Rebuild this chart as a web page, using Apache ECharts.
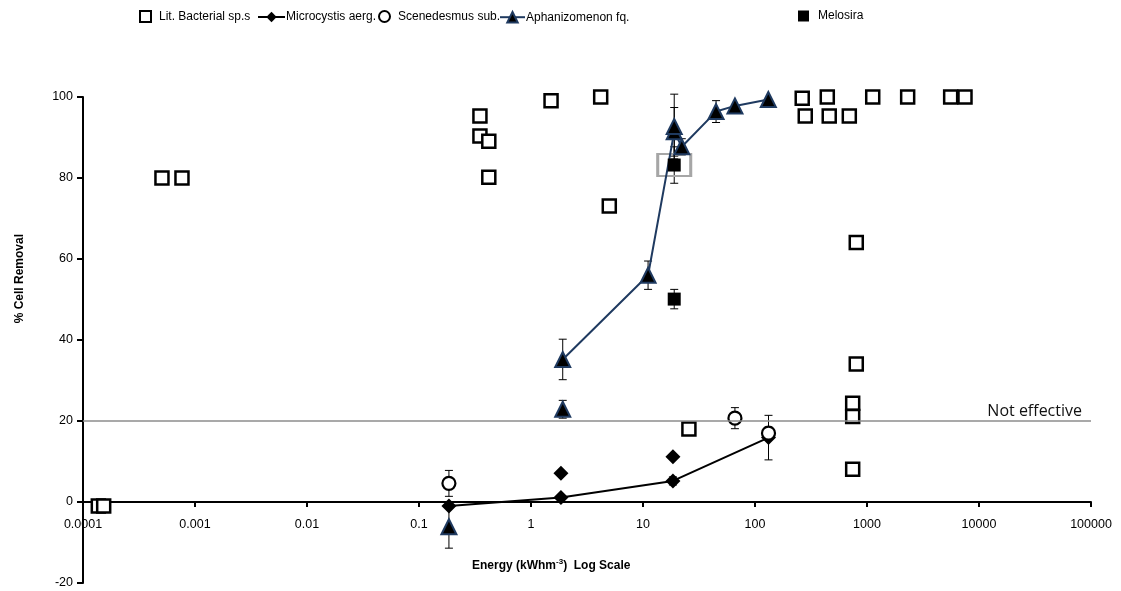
<!DOCTYPE html>
<html>
<head>
<meta charset="utf-8">
<script src="https://cdn.jsdelivr.net/npm/echarts@6/dist/echarts.min.js"></script>
<style>html,body{margin:0;padding:0;background:#fff}#c{width:1121px;height:591px}</style>
</head>
<body>
<div id="c"></div>
<script>
// ---- tick labels ----
const xTickLabels = ['0.0001','0.001','0.01','0.1','1','10','100','1000','10000','100000'];
const yTickValues = [-20, 0, 20, 40, 60, 80, 100];

// ---- Lit. Bacterial sp.s (hollow squares) ----
const litX = [0.000137, 0.000153, 0.000507, 0.000765, 0.35, 0.35, 0.42, 0.42, 1.51, 4.19, 5.0, 25.7,
              264, 442, 1125, 2307, 5585, 7499, 281, 460, 695, 802, 802, 745, 745, 745];
const litY = [-1, -1, 80, 80, 95.3, 90.4, 89.1, 80.2, 99.1, 100, 73.1, 18.0,
              99.7, 100, 100, 100, 100, 100, 95.3, 95.3, 95.3, 64.1, 34.1, 24.4, 21.1, 8.1];

// ---- Microcystis aerg. ----
const microLineX = [0.185, 1.85, 18.5, 132];
const microLineY = [-1, 1.1, 5.2, 15.9];
const microLineErr = [0, 0, 1, 5.5];
const microExtraX = [1.85, 18.5];
const microExtraY = [7.1, 11.2];

// ---- Scenedesmus sub. ----
const scenX = [0.185, 66.2, 132];
const scenY = [4.6, 20.7, 17.0];
const scenErr = [3.2, 2.6, 1.5];

// ---- Aphanizomenon fq. ----
const aphLineX = [1.92, 11.1, 19, 22.2, 44.9, 66.2, 131.5];
const aphLineY = [35.2, 56.0, 91.4, 87.7, 96.4, 97.8, 99.4];
const aphLineErr = [5, 3.5, 6, 2, 2.7, 0, 0];
const aphExtraX = [0.185, 1.92, 19];
const aphExtraY = [-6.1, 22.9, 92.7];
const aphExtraErr = [5.3, 2.2, 8];

// ---- Melosira ----
const melX = [19, 19];
const melY = [83.2, 50.1];
const melErr = [4.5, 2.4];

// ---- highlighted point ----
const highlightX = [19];
const highlightY = [83.2];

const threshold = 20;

const zip = (xs, ys) => xs.map((x, i) => [x, ys[i]]);

function errSeries(xs, ys, errs) {
  const data = [];
  xs.forEach((x, i) => { if (errs[i] > 0) data.push([x, ys[i] - errs[i], ys[i] + errs[i]]); });
  return {
    type: 'custom', silent: true, z: 1, data: data,
    encode: { x: 0, y: [1, 2] },
    renderItem: function (params, api) {
      const x = api.value(0);
      const lo = api.coord([x, api.value(1)]);
      const hi = api.coord([x, api.value(2)]);
      const w = 4;
      const st = { stroke: '#000', lineWidth: 1 };
      return {
        type: 'group', children: [
          { type: 'line', shape: { x1: lo[0], y1: lo[1], x2: hi[0], y2: hi[1] }, style: st },
          { type: 'line', shape: { x1: lo[0] - w, y1: lo[1], x2: lo[0] + w, y2: lo[1] }, style: st },
          { type: 'line', shape: { x1: hi[0] - w, y1: hi[1], x2: hi[0] + w, y2: hi[1] }, style: st }
        ]
      };
    }
  };
}

const navy = '#1f3a60';
const font = 'Liberation Sans, Arial, sans-serif';

function mkLegend(name, left, w, h, gap, top, itemStyle) {
  const d = { name: name };
  if (itemStyle) d.itemStyle = itemStyle;
  return {
    data: [d], left: left - 5, top: top, itemWidth: w, itemHeight: h, itemGap: 0,
    textStyle: { fontFamily: font, fontSize: 12, color: '#000', padding: [0, 0, 0, gap - 5] },
    selectedMode: false
  };
}

const baseGraphics = [
  {
    type: 'text', left: 14, top: 234, rotation: Math.PI / 2,
    style: { text: '% Cell Removal', font: 'bold 12px Liberation Sans, Arial, sans-serif', fill: '#000' }
  },
  {
    type: 'text', left: 472, top: 558,
    style: {
      text: '{a|Energy (kWhm}{s|-3}{a|)  Log Scale}',
      rich: {
        a: { fontFamily: font, fontWeight: 'bold', fontSize: 12, color: '#000', lineHeight: 16 },
        s: { fontFamily: font, fontWeight: 'bold', fontSize: 8, color: '#000', padding: [0, 0, 7, 0], lineHeight: 16 }
      }
    }
  }
];

const option = {
  animation: false,
  backgroundColor: '#fff',
  legend: [
    mkLegend('Lit. Bacterial sp.s', 139, 11, 11, 8, 5, { color: '#fff', borderColor: '#000', borderWidth: 2 }),
    mkLegend('Microcystis aerg.', 257, 27, 13, 1, 6),
    mkLegend('Scenedesmus sub.', 378, 11, 11, 8, 5, { color: '#fff', borderColor: '#000', borderWidth: 2 }),
    mkLegend('Aphanizomenon fq.', 499, 25, 13, 1, 6),
    mkLegend('Melosira', 798, 11, 11, 9, 5, { color: '#000' })
  ],
  grid: { left: 83, right: 30, top: 97, bottom: 8, containLabel: false, outerBoundsMode: 'none' },
  xAxis: {
    type: 'log', logBase: 10, min: 0.0001, max: 100000, interval: 1,
    axisLine: { onZero: true, lineStyle: { color: '#000', width: 2 } },
    axisTick: { show: true, inside: false, length: 5, lineStyle: { color: '#000', width: 2 } },
    minorTick: { show: false },
    splitLine: { show: false },
    axisLabel: { show: false }
  },
  yAxis: {
    type: 'value', min: yTickValues[0], max: yTickValues[yTickValues.length - 1], interval: 20,
    axisLine: { show: true, onZero: false, lineStyle: { color: '#000', width: 2 } },
    axisTick: { show: true, inside: false, length: 6, lineStyle: { color: '#000', width: 2 } },
    splitLine: { show: false },
    axisLabel: { fontFamily: font, fontSize: 12.5, color: '#000', margin: 10 }
  },
  graphic: baseGraphics,
  series: [
    {
      name: 'Lit. Bacterial sp.s', type: 'scatter', z: 3,
      symbol: 'rect', symbolSize: 13,
      itemStyle: { color: '#fff', borderColor: '#000', borderWidth: 2.5, opacity: 1 },
      data: zip(litX, litY),
      markLine: {
        silent: true, symbol: ['none', 'none'],
        lineStyle: { color: '#8c8c8c', width: 1.5, type: 'solid' },
        label: { show: true, position: 'insideEndTop', formatter: 'Not effective', color: '#111', fontSize: 16, fontFamily: 'Open Sans, sans-serif', distance: [9, 2] },
        data: [{ yAxis: threshold }]
      }
    },
    {
      name: 'Microcystis aerg.', type: 'line', z: 4,
      symbol: 'diamond', symbolSize: 15,
      itemStyle: { color: '#000' }, lineStyle: { color: '#000', width: 2 },
      data: zip(microLineX, microLineY)
    },
    {
      name: 'Microcystis aerg.', type: 'scatter', z: 4,
      symbol: 'diamond', symbolSize: 15, itemStyle: { color: '#000', opacity: 1 },
      data: zip(microExtraX, microExtraY)
    },
    {
      name: 'Scenedesmus sub.', type: 'scatter', z: 4,
      symbol: 'circle', symbolSize: 13,
      itemStyle: { color: '#fff', borderColor: '#000', borderWidth: 2.2, opacity: 1 },
      data: zip(scenX, scenY)
    },
    {
      name: 'Aphanizomenon fq.', type: 'line', z: 4,
      symbol: 'triangle', symbolSize: 15,
      itemStyle: { color: '#000', borderColor: navy, borderWidth: 2 }, lineStyle: { color: navy, width: 2 },
      data: zip(aphLineX, aphLineY)
    },
    {
      name: 'Aphanizomenon fq.', type: 'scatter', z: 4,
      symbol: 'triangle', symbolSize: 15,
      itemStyle: { color: '#000', borderColor: navy, borderWidth: 2, opacity: 1 },
      data: zip(aphExtraX, aphExtraY)
    },
    {
      name: 'Melosira', type: 'scatter', z: 5,
      symbol: 'rect', symbolSize: 13, itemStyle: { color: '#000', opacity: 1 },
      data: zip(melX, melY)
    },
    {
      name: 'highlight', type: 'scatter', z: 2, silent: true,
      symbol: 'rect', symbolSize: [33, 22],
      itemStyle: { color: 'rgba(0,0,0,0)', borderColor: '#a6a6a6', borderWidth: 2.5, opacity: 1 },
      data: zip(highlightX, highlightY)
    },
    errSeries(microLineX, microLineY, microLineErr),
    errSeries(scenX, scenY, scenErr),
    errSeries(aphLineX, aphLineY, aphLineErr),
    errSeries(aphExtraX, aphExtraY, aphExtraErr),
    errSeries(melX, melY, melErr)
  ]
};

const chart = echarts.init(document.getElementById('c'), null, { renderer: 'canvas' });
chart.setOption(option);

// x tick labels placed under the zero-crossing axis line, using the chart's own scales
const yZero = chart.convertToPixel({ yAxisIndex: 0 }, 0);
const tickGraphics = xTickLabels.map(function (lbl) {
  const px = chart.convertToPixel({ xAxisIndex: 0 }, parseFloat(lbl));
  return {
    type: 'text', x: px, y: yZero + 23,
    style: { text: lbl, align: 'center', verticalAlign: 'middle', font: '12.5px Liberation Sans, Arial, sans-serif', fill: '#000' }
  };
});
chart.setOption({ graphic: baseGraphics.concat(tickGraphics) });
</script>
</body>
</html>
